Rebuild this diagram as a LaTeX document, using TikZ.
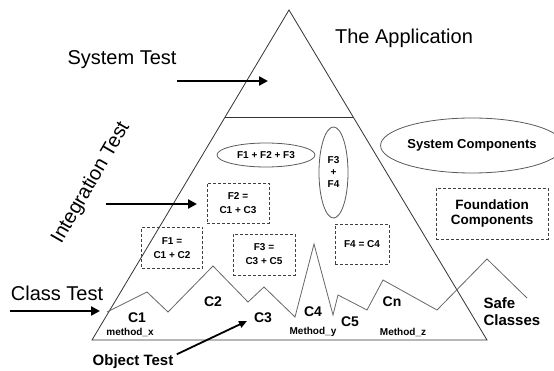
\documentclass[tikz,border=0pt]{standalone}
\usepackage{fontspec}
\setmainfont{Liberation Sans}
\usetikzlibrary{arrows.meta,shapes.geometric}

\tikzset{
  big/.style={font=\fontsize{20}{22}\selectfont},
  lbl/.style={font=\bfseries\fontsize{14}{16}\selectfont},
  tiny/.style={font=\bfseries\fontsize{10}{14}\selectfont, align=center},
  fbox/.style={tiny, draw=black!75, line width=0.8pt, dash pattern=on 3pt off 2pt,
    inner sep=0pt},
  blob/.style={tiny, draw=black!65, line width=0.8pt, ellipse, inner sep=0pt},
  push/.style={line width=2.6pt, -{Triangle[length=9pt,width=9pt]}},
  poke/.style={line width=1.8pt, -{Triangle[length=8pt,width=7pt]}},
}

\begin{document}
\begin{tikzpicture}[x=1pt, y=-1pt]
    \useasboundingbox (0,0) rectangle (554,371);
    % the pyramid and its top slice
    \coordinate (apex) at (289,10);
    \coordinate (bl) at (92,340);
    \coordinate (br) at (487,340);
    \draw[black!80, line width=0.8pt] (apex) -- (bl) -- (br) -- cycle;
    \draw[black!80, line width=0.8pt] (225,117) -- (353,117);
    % class ridge line
    \draw[black!60, line width=0.8pt] (107,312) -- (147,292) -- (168,312) -- (213,266)
      -- (248,302) -- (264,287) -- (295,317) -- (314,244) -- (333,315) -- (338,295)
      -- (367,310) -- (383,280) -- (437,310) -- (487,259) -- (527,298);

    \node[big] (systest) at (122,60) {System Test};
    \node[big] (app) at (404,38) {The Application};
    \node[big, rotate=60] (inttest) at (91,183) {Integration Test};
    \node[big] (classtest) at (57,293) {Class Test};

    \coordinate (s0) at (177,81);   \coordinate (s1) at (268,81);
    \coordinate (i0) at (106,204);  \coordinate (i1) at (197,204);
    \coordinate (k0) at (10,311);   \coordinate (k1) at (100,311);
    \draw[push] (s0) -- (s1);
    \draw[push] (i0) -- (i1);
    \draw[push] (k0) -- (k1);

    % functions
    \node[blob, minimum width=98, minimum height=24] (f123) at (266,155) {F1 + F2 + F3};
    \node[blob, minimum width=29, minimum height=91, font=\bfseries\fontsize{10}{12}\selectfont]
      (f34) at (333.5,172.5) {F3\\+\\F4};
    \node[fbox, minimum width=61, minimum height=41] (f1) at (172,248) {F1 =\\C1 + C2};
    \node[fbox, minimum width=62, minimum height=40] (f2) at (238,203) {F2 =\\C1 + C3};
    \node[fbox, minimum width=62, minimum height=41] (f3) at (264,254.5) {F3 =\\C3 + C5};
    \node[fbox, minimum width=54, minimum height=40] (f4) at (362,244) {F4 = C4};

    % legend on the right
    \node[blob, minimum width=164, minimum height=55, font=\bfseries\fontsize{13}{15}\selectfont]
      (syscomp) at (472,145.5) {System Components};
    \node[fbox, minimum width=112, minimum height=51, font=\bfseries\fontsize{13.5}{15}\selectfont]
      (found) at (492,213.5) {Foundation\\Components};
    \node[lbl, font=\bfseries\fontsize{15}{17}\selectfont, align=left, anchor=west]
      (safe) at (480,311.5) {Safe\\Classes};

    % classes and methods
    \node[lbl] (c1) at (137,318) {C1};
    \node[lbl] (c2) at (213,302) {C2};
    \node[lbl] (c3) at (263,318) {C3};
    \node[lbl] (c4) at (313,312) {C4};
    \node[lbl] (c5) at (350,322) {C5};
    \node[lbl] (cn) at (392,302) {Cn};
    \node[tiny] (mx) at (130,332) {method\_x};
    \node[tiny] (my) at (313,332) {Method\_y};
    \node[tiny] (mz) at (403,332) {Method\_z};

    \node[font=\bfseries\fontsize{15}{17}\selectfont] (objtest) at (133,362) {Object Test};
    \coordinate (otip) at (247,321);
    \draw[poke] (objtest.10) -- (otip);
\end{tikzpicture}
\end{document}
